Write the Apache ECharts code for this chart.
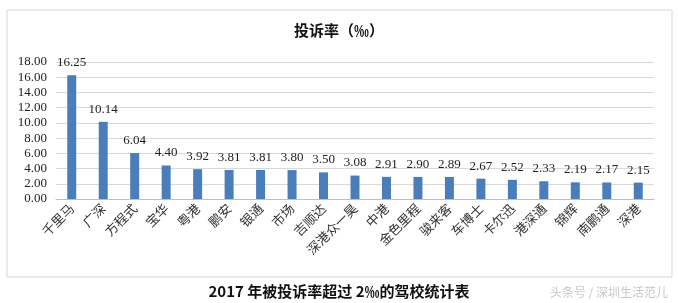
<!DOCTYPE html>
<html><head><meta charset="utf-8">
<script src="https://cdn.jsdelivr.net/npm/echarts@6/dist/echarts.min.js"></script>
<style>html,body{margin:0;padding:0;background:#fff}#c{width:678px;height:303px}</style>
</head><body><div id="c"></div>
<script>
const categories = ['千里马','广深','方程式','宝华','粤港','鹏安','银通','市场','吉顺达','深港众一昊','中港','金色里程','骏来客','车博士','卡尔迅','港深通','锦辉','南鹏通','深港'];
const values = [16.25,10.14,6.04,4.40,3.92,3.81,3.81,3.80,3.50,3.08,2.91,2.90,2.89,2.67,2.52,2.33,2.19,2.17,2.15];
const yTicks = [0,2,4,6,8,10,12,14,16,18];
const chart = echarts.init(document.getElementById('c'));
chart.setOption({
  animation:false,
  title:{text:'投诉率（‰）',left:'center',top:18,textStyle:{fontFamily:'Noto Sans CJK SC',fontSize:15,fontWeight:'bold',color:'#111'}},
  grid:{left:56,right:24,top:62,bottom:104},
  xAxis:{type:'category',data:categories,
    axisLine:{lineStyle:{color:'#bfbfbf'}},axisTick:{show:false},
    axisLabel:{rotate:45,interval:0,margin:7,fontFamily:'Noto Sans CJK SC',fontSize:13,color:'#333'}},
  yAxis:{type:'value',min:yTicks[0],max:yTicks[yTicks.length-1],interval:2,
    axisLine:{show:false},axisTick:{show:false},
    splitLine:{lineStyle:{color:'#d9d9d9'}},
    axisLabel:{margin:9,fontFamily:'Liberation Serif',fontSize:13,color:'#222',formatter:v=>v.toFixed(2)}},
  series:[{type:'bar',data:values,barWidth:9,itemStyle:{color:'#4a7ebb'},
    label:{show:true,position:'top',distance:6,fontFamily:'Liberation Serif',fontSize:13,color:'#222',formatter:p=>p.value.toFixed(2)}}],
  graphic:[
    {type:'rect',shape:{x:7,y:10,width:665,height:267},style:{fill:null,stroke:'#d8d8d8',lineWidth:1},silent:true},
    {type:'text',left:'center',top:284,style:{text:'2017 年被投诉率超过 2‰的驾校统计表',font:'bold 15px "Noto Sans CJK SC"',fill:'#111'}},
    {type:'text',right:10,top:286,style:{text:'头条号 / 深圳生活范儿',font:'12px "Noto Sans CJK SC"',fill:'#c8c8c8'}}
  ]
});
</script></body></html>
